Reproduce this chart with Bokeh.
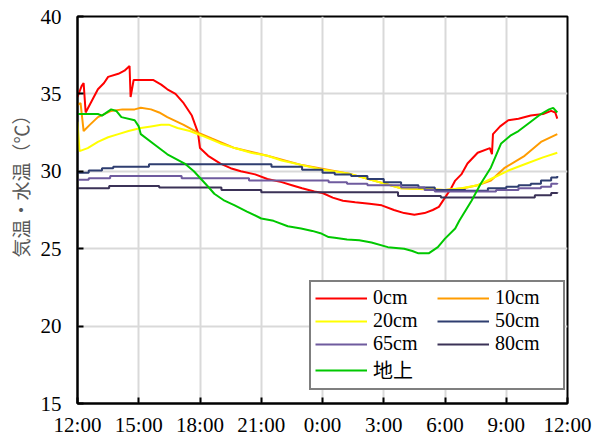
from bokeh.plotting import figure
from bokeh.models import FixedTicker, Legend, LegendItem, Title
from bokeh.embed import file_html
from bokeh.resources import INLINE

# ---- data (hours since 12:00) ----
tick_hours = [0, 3, 6, 9, 12, 15, 18, 21, 24]
tick_labels = ["12:00", "15:00", "18:00", "21:00", "0:00", "3:00", "6:00", "9:00", "12:00"]
y_ticks = [15, 20, 25, 30, 35, 40]

h_0cm = [0.0, 0.2, 0.3, 0.4, 0.6, 1.0, 1.3, 1.5, 2.0, 2.3, 2.55, 2.6, 2.75, 3.2, 3.7, 4.1, 4.4, 4.8,
         5.2, 5.6, 5.9, 6.0, 6.4, 7.0, 7.5, 8.0, 8.7, 9.3, 10.0, 10.5, 11.0, 11.6, 12.0, 12.5, 13.0,
         13.6, 14.3, 14.9, 15.5, 16.0, 16.5, 17.0, 17.4, 17.7, 18.0, 18.3, 18.5, 18.8, 19.1, 19.6,
         20.2, 20.3, 20.35, 20.7, 21.1, 21.6, 22.2, 22.8, 23.2, 23.4, 23.5]
t_0cm = [34.8, 35.5, 35.7, 33.8, 34.3, 35.3, 35.7, 36.1, 36.3, 36.5, 36.8, 34.8, 35.9, 35.9, 35.9, 35.6,
         35.3, 35.0, 34.4, 33.6, 32.5, 31.5, 31.0, 30.5, 30.2, 30.0, 29.8, 29.5, 29.3, 29.1, 28.9, 28.7,
         28.6, 28.3, 28.1, 28.0, 27.9, 27.8, 27.5, 27.3, 27.2, 27.3, 27.5, 27.7, 28.3, 28.9, 29.4, 29.8,
         30.5, 31.2, 31.5, 31.1, 32.4, 32.9, 33.3, 33.4, 33.6, 33.7, 33.9, 33.8, 33.4]

h_10cm = [0.0, 0.15, 0.3, 0.6, 1.0, 1.65, 2.2, 2.8, 3.1, 3.6, 4.0, 4.4, 5.2, 5.9, 6.6, 7.7, 9.3, 11.0,
          13.3, 15.85, 18.0, 18.9, 19.6, 20.25, 20.9, 21.9, 22.7, 23.5]
t_10cm = [34.3, 34.4, 32.6, 33.0, 33.5, 33.9, 34.0, 34.0, 34.1, 34.0, 33.8, 33.5, 33.0, 32.5, 32.1, 31.5,
          31.0, 30.4, 29.85, 28.9, 28.8, 28.9, 29.1, 29.4, 30.2, 31.0, 31.9, 32.4]

h_20cm = [0.0, 0.1, 0.5, 1.0, 1.5, 2.0, 2.5, 3.1, 3.6, 4.1, 4.5, 4.9, 5.5, 6.1, 7.0, 7.7, 8.5, 9.3, 10.0,
          11.0, 12.0, 13.3, 14.5, 15.85, 17.0, 18.0, 18.8, 19.6, 20.4, 21.1, 22.0, 22.8, 23.5]
t_20cm = [33.2, 31.3, 31.5, 31.9, 32.2, 32.4, 32.6, 32.8, 32.9, 33.0, 33.0, 32.8, 32.6, 32.3, 31.8, 31.5,
          31.2, 31.0, 30.7, 30.4, 30.1, 29.85, 29.4, 28.9, 28.85, 28.8, 28.9, 29.1, 29.6, 30.05, 30.5,
          30.9, 31.2]

h_50cm = [0, 0.55, 1.2, 1.75, 3.5, 9.5, 11.0, 12.0, 12.6, 13.4, 14.2, 15.0, 15.85, 16.7, 17.5, 19.0,
          20.1, 21.0, 21.6, 22.2, 22.7, 23.2, 23.5]
t_50cm = [29.9, 30.05, 30.2, 30.3, 30.45, 30.3, 30.1, 29.9, 29.8, 29.7, 29.5, 29.3, 29.1, 28.95, 28.8,
          28.75, 28.9, 29.0, 29.1, 29.2, 29.4, 29.6, 29.7]

h_65cm = [0, 0.55, 1.6, 5.1, 8.4, 12.3, 13.2, 14.2, 15.85, 17.0, 17.5, 20.5, 21.6, 22.7, 23.2, 23.5]
t_65cm = [29.45, 29.55, 29.7, 29.55, 29.4, 29.3, 29.2, 29.1, 28.95, 28.8, 28.7, 28.8, 28.9, 29.0, 29.2,
          29.25]

h_80cm = [0, 1.55, 4.0, 7.05, 9.0, 15.7, 17.8, 22.4, 23.2, 23.5]
t_80cm = [28.9, 29.05, 28.95, 28.8, 28.65, 28.4, 28.3, 28.45, 28.6, 28.65]

h_ground = [0.0, 0.5, 1.0, 1.2, 1.65, 1.9, 2.15, 2.8, 3.0, 3.1, 3.8, 4.4, 5.25, 5.7, 6.05, 6.4, 6.7, 7.2,
            7.7, 8.3, 9.0, 9.6, 10.3, 10.95, 11.5, 11.9, 12.3, 12.6, 13.2, 13.8, 14.4, 15.2, 16.0, 16.4,
            16.7, 17.2, 17.65, 18.0, 18.5, 18.7, 19.3, 19.75, 20.25, 20.75, 21.2, 21.6, 22.2, 22.7,
            23.1, 23.3, 23.5]
t_ground = [33.7, 33.7, 33.7, 33.6, 34.0, 33.9, 33.5, 33.3, 32.9, 32.4, 31.7, 31.1, 30.5, 30.0, 29.5,
            29.0, 28.55, 28.1, 27.8, 27.4, 26.95, 26.8, 26.45, 26.3, 26.15, 26.0, 25.75, 25.7, 25.6,
            25.55, 25.4, 25.1, 25.0, 24.85, 24.7, 24.7, 25.1, 25.65, 26.3, 26.8, 28.1, 29.2, 30.25,
            31.8, 32.3, 32.6, 33.2, 33.7, 34.0, 34.1, 33.8]

names = ["0cm", "10cm", "20cm", "50cm", "65cm", "80cm", "地上"]
colors = ["#ff0000", "#ff9c00", "#ffff00", "#2f3e70", "#6f5b9e", "#3b3257", "#00c800"]
y_label = "気温・水温（℃）"

p = figure(width=593, height=439, x_range=(0, 24), y_range=(15, 40),
           output_backend="svg", toolbar_location=None,
           min_border_left=76, min_border_right=26, min_border_top=16, min_border_bottom=36)

p.outline_line_color = "black"
p.outline_line_width = 2

for ax in (p.xaxis[0], p.yaxis[0]):
    ax.axis_line_color = "black"
    ax.axis_line_width = 2
    ax.major_tick_in = 6
    ax.major_tick_out = 0
    ax.major_tick_line_width = 2
    ax.major_tick_line_color = "black"
    ax.minor_tick_line_color = None
    ax.major_label_text_font = "Liberation Serif"
    ax.major_label_text_font_size = "21px"
    ax.major_label_text_color = "black"

p.xaxis.ticker = FixedTicker(ticks=tick_hours)
p.xaxis.major_label_overrides = {h: lab for h, lab in zip(tick_hours, tick_labels)}
p.xaxis.major_label_standoff = 9
p.yaxis.ticker = FixedTicker(ticks=y_ticks)
p.yaxis.major_label_standoff = 16

p.xgrid.ticker = FixedTicker(ticks=tick_hours)
p.ygrid.ticker = FixedTicker(ticks=y_ticks)
for g in (p.xgrid[0], p.ygrid[0]):
    g.grid_line_color = "#d9d9d9"
    g.grid_line_width = 2

r0 = p.line(h_0cm, t_0cm, line_color=colors[0], line_width=2)
r1 = p.line(h_10cm, t_10cm, line_color=colors[1], line_width=2)
r2 = p.line(h_20cm, t_20cm, line_color=colors[2], line_width=2)
r3 = p.step(h_50cm, t_50cm, mode="after", line_color=colors[3], line_width=2)
r4 = p.step(h_65cm, t_65cm, mode="after", line_color=colors[4], line_width=2)
r5 = p.step(h_80cm, t_80cm, mode="after", line_color=colors[5], line_width=2)
r6 = p.line(h_ground, t_ground, line_color=colors[6], line_width=2)
renderers = [r0, r1, r2, r3, r4, r5, r6]

# legend fills column-first: order items so rows read 0cm|10cm, 20cm|50cm, 65cm|80cm, 地上
order = [0, 2, 4, 6, 1, 3, 5]
legend = Legend(items=[LegendItem(label=names[i], renderers=[renderers[i]]) for i in order],
                location=(232, 13), ncols=2,
                label_text_font="'Liberation Serif', 'Noto Sans CJK JP'",
                label_text_font_size="20px", label_text_color="black",
                glyph_width=52, glyph_height=20, label_height=20, label_width=64,
                label_standoff=6, spacing=0, padding=4, margin=0,
                border_line_color="black", border_line_width=2,
                background_fill_color="white", background_fill_alpha=1.0)
p.add_layout(legend, "center")

p.add_layout(Title(text=y_label, align="left", offset=146, standoff=8,
                   text_font="Noto Sans CJK JP", text_font_size="19px",
                   text_font_style="normal", text_color="#595959"), "left")

open("out.html", "w").write(file_html(p, INLINE))
